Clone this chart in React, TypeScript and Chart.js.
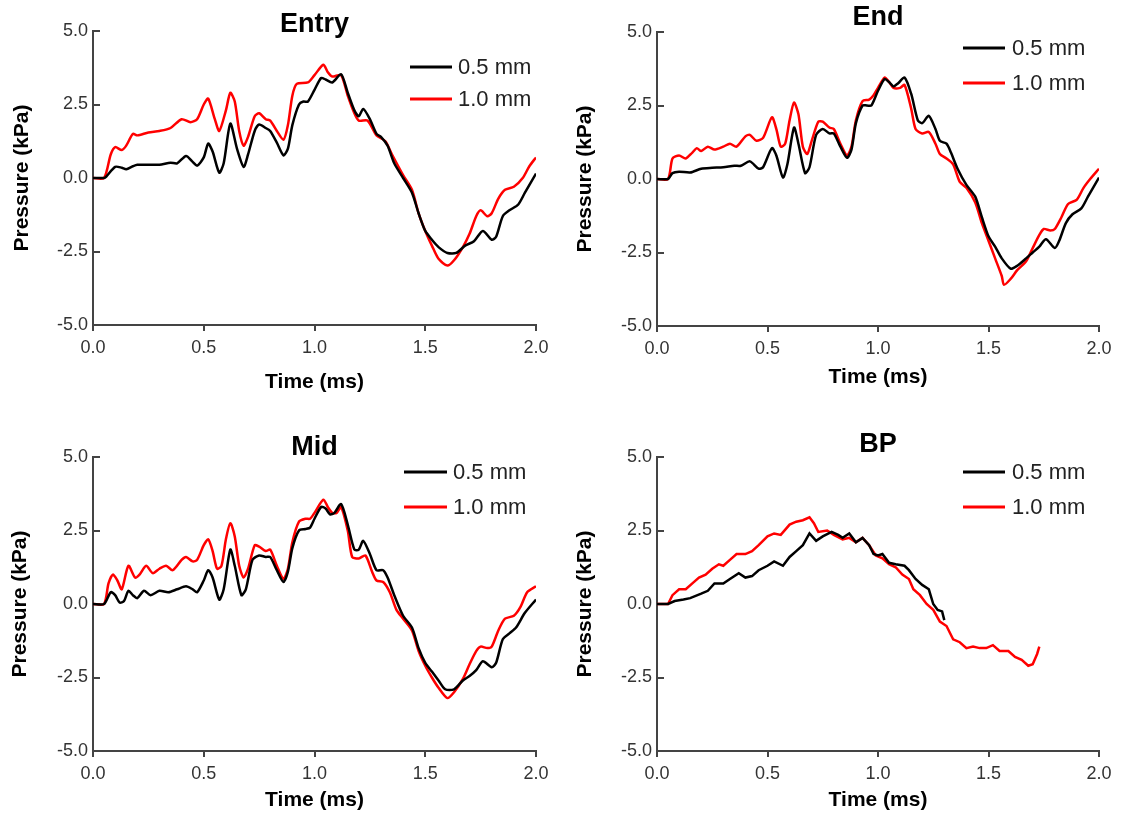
import React, { useEffect, useRef } from 'react';
import { Chart, registerables } from 'chart.js';

Chart.register(...registerables);

const FONT = '"Liberation Sans", Arial, Helvetica, sans-serif';

// ---- data: [time (ms), pressure (kPa)] ----
const seriesLabels = ['0.5 mm', '1.0 mm'];
const seriesColors = ['#000000', '#ff0000'];
const panelTitles = ['Entry', 'End', 'Mid', 'BP'];
const xAxisTitle = 'Time (ms)';
const yAxisTitle = 'Pressure (kPa)';
const xRange = [0, 2];
const yRange = [-5, 5];
const xStep = 0.5;
const yStep = 2.5;

const entry05: number[][] = [
  [0, 0], [0.05, 0], [0.06, 0.05], [0.1, 0.38], [0.13, 0.35], [0.15, 0.3], [0.18, 0.4], [0.2, 0.45], [0.25, 0.45], [0.3, 0.45],
  [0.35, 0.52], [0.38, 0.5], [0.42, 0.75], [0.45, 0.55], [0.47, 0.42], [0.5, 0.7], [0.52, 1.17], [0.54, 0.9], [0.57, 0.18], [0.59, 0.5],
  [0.62, 1.85], [0.65, 1.0], [0.68, 0.38], [0.7, 0.8], [0.73, 1.6], [0.75, 1.82], [0.78, 1.7], [0.8, 1.6], [0.83, 1.2], [0.86, 0.77],
  [0.88, 1.0], [0.9, 1.8], [0.93, 2.5], [0.95, 2.6], [0.97, 2.6], [1.0, 3.0], [1.03, 3.4], [1.05, 3.35], [1.08, 3.25], [1.12, 3.53],
  [1.15, 2.9], [1.18, 2.3], [1.2, 2.1], [1.22, 2.35], [1.25, 2.0], [1.28, 1.5], [1.3, 1.4], [1.33, 1.1], [1.36, 0.5], [1.4, 0.0],
  [1.44, -0.5], [1.47, -1.2], [1.5, -1.8], [1.53, -2.1], [1.56, -2.35], [1.6, -2.55], [1.64, -2.55], [1.68, -2.3], [1.72, -2.15], [1.76, -1.8],
  [1.8, -2.1], [1.82, -2.0], [1.85, -1.3], [1.88, -1.1], [1.92, -0.9], [1.95, -0.5], [2.0, 0.15],
];
const entry10: number[][] = [
  [0, 0], [0.05, 0], [0.08, 0.8], [0.1, 1.05], [0.13, 0.95], [0.15, 1.1], [0.18, 1.5], [0.2, 1.45], [0.25, 1.55], [0.3, 1.6],
  [0.35, 1.7], [0.4, 2.0], [0.44, 1.9], [0.47, 2.0], [0.5, 2.5], [0.52, 2.7], [0.55, 2.0], [0.57, 1.6], [0.6, 2.3], [0.62, 2.9],
  [0.64, 2.6], [0.66, 1.6], [0.68, 1.1], [0.7, 1.4], [0.73, 2.1], [0.75, 2.2], [0.78, 2.0], [0.8, 1.95], [0.83, 1.6], [0.86, 1.3],
  [0.88, 1.8], [0.9, 2.8], [0.92, 3.2], [0.97, 3.25], [1.0, 3.5], [1.04, 3.85], [1.06, 3.6], [1.08, 3.45], [1.12, 3.5], [1.15, 2.8],
  [1.18, 2.2], [1.2, 1.95], [1.24, 1.95], [1.28, 1.45], [1.32, 1.25], [1.35, 0.8], [1.4, 0.1], [1.44, -0.4], [1.47, -1.2], [1.5, -1.8],
  [1.53, -2.3], [1.56, -2.75], [1.6, -2.98], [1.63, -2.8], [1.67, -2.35], [1.7, -1.9], [1.73, -1.3], [1.75, -1.1], [1.78, -1.3], [1.8, -1.2],
  [1.83, -0.7], [1.86, -0.4], [1.9, -0.3], [1.94, 0.0], [1.97, 0.4], [2.0, 0.7],
];
const end05: number[][] = [
  [0, 0], [0.05, 0], [0.07, 0.2], [0.1, 0.25], [0.15, 0.22], [0.2, 0.35], [0.25, 0.38], [0.3, 0.4], [0.35, 0.45], [0.38, 0.45],
  [0.42, 0.6], [0.46, 0.35], [0.48, 0.4], [0.52, 1.05], [0.54, 0.8], [0.57, 0.05], [0.59, 0.5], [0.62, 1.75], [0.64, 1.2], [0.67, 0.2],
  [0.69, 0.4], [0.72, 1.5], [0.75, 1.7], [0.78, 1.55], [0.8, 1.55], [0.83, 1.1], [0.86, 0.72], [0.88, 1.0], [0.9, 1.9], [0.93, 2.5],
  [0.95, 2.5], [0.97, 2.5], [1.0, 3.0], [1.03, 3.4], [1.05, 3.3], [1.07, 3.15], [1.09, 3.25], [1.12, 3.45], [1.15, 2.9], [1.18, 2.0],
  [1.2, 1.9], [1.23, 2.15], [1.26, 1.7], [1.28, 1.3], [1.31, 1.2], [1.33, 0.9], [1.36, 0.35], [1.4, -0.2], [1.44, -0.6], [1.47, -1.3],
  [1.5, -1.95], [1.53, -2.3], [1.56, -2.7], [1.6, -3.05], [1.63, -2.95], [1.67, -2.7], [1.7, -2.5], [1.73, -2.3], [1.76, -2.05], [1.8, -2.35],
  [1.82, -2.1], [1.85, -1.5], [1.88, -1.2], [1.92, -1.0], [1.95, -0.6], [2.0, 0.05],
];
const end10: number[][] = [
  [0, 0], [0.05, 0], [0.07, 0.7], [0.1, 0.8], [0.13, 0.7], [0.16, 0.9], [0.18, 1.05], [0.2, 0.95], [0.23, 1.1], [0.26, 1.0],
  [0.3, 1.1], [0.33, 1.2], [0.36, 1.1], [0.4, 1.45], [0.42, 1.5], [0.45, 1.3], [0.48, 1.4], [0.52, 2.1], [0.54, 1.7], [0.56, 1.1],
  [0.58, 1.2], [0.6, 2.0], [0.62, 2.6], [0.64, 2.2], [0.66, 1.1], [0.68, 0.85], [0.7, 1.3], [0.73, 1.95], [0.75, 1.95], [0.78, 1.75],
  [0.8, 1.7], [0.83, 1.2], [0.86, 0.8], [0.88, 1.1], [0.9, 2.0], [0.93, 2.65], [0.96, 2.7], [0.98, 2.85], [1.0, 3.1], [1.03, 3.45],
  [1.05, 3.3], [1.07, 3.1], [1.1, 3.1], [1.12, 3.2], [1.15, 2.4], [1.17, 1.7], [1.2, 1.55], [1.23, 1.6], [1.26, 1.2], [1.28, 0.85],
  [1.31, 0.7], [1.34, 0.5], [1.37, -0.1], [1.4, -0.3], [1.44, -0.8], [1.47, -1.5], [1.5, -2.1], [1.53, -2.7], [1.56, -3.3], [1.57, -3.6],
  [1.6, -3.4], [1.63, -3.1], [1.67, -2.8], [1.7, -2.35], [1.73, -1.9], [1.75, -1.7], [1.78, -1.75], [1.8, -1.7], [1.83, -1.3], [1.86, -0.85],
  [1.9, -0.7], [1.93, -0.3], [1.96, 0.0], [2.0, 0.35],
];
const mid05: number[][] = [
  [0, 0], [0.05, 0], [0.08, 0.4], [0.1, 0.3], [0.12, 0.05], [0.14, 0.1], [0.16, 0.45], [0.18, 0.3], [0.2, 0.2], [0.23, 0.45],
  [0.26, 0.3], [0.3, 0.45], [0.34, 0.4], [0.38, 0.5], [0.42, 0.6], [0.45, 0.5], [0.47, 0.4], [0.5, 0.8], [0.52, 1.15], [0.54, 0.9],
  [0.57, 0.15], [0.59, 0.5], [0.62, 1.85], [0.64, 1.3], [0.67, 0.3], [0.69, 0.5], [0.72, 1.5], [0.75, 1.65], [0.78, 1.6], [0.8, 1.6],
  [0.83, 1.15], [0.86, 0.75], [0.88, 1.1], [0.9, 1.9], [0.93, 2.5], [0.96, 2.55], [0.98, 2.6], [1.0, 2.9], [1.03, 3.3], [1.05, 3.25],
  [1.07, 3.05], [1.09, 3.1], [1.12, 3.4], [1.15, 2.7], [1.18, 1.85], [1.2, 1.85], [1.22, 2.15], [1.25, 1.7], [1.28, 1.15], [1.31, 1.15],
  [1.33, 0.9], [1.36, 0.3], [1.4, -0.4], [1.44, -0.8], [1.47, -1.5], [1.5, -2.0], [1.53, -2.3], [1.56, -2.6], [1.59, -2.9], [1.63, -2.9],
  [1.67, -2.6], [1.7, -2.45], [1.73, -2.25], [1.76, -1.95], [1.8, -2.15], [1.82, -2.0], [1.85, -1.2], [1.88, -1.0], [1.91, -0.8], [1.95, -0.3],
  [2.0, 0.15],
];
const mid10: number[][] = [
  [0, 0], [0.05, 0], [0.07, 0.7], [0.09, 1.0], [0.11, 0.8], [0.13, 0.5], [0.16, 1.3], [0.19, 0.9], [0.21, 1.0], [0.24, 1.3],
  [0.27, 1.05], [0.3, 1.2], [0.33, 1.3], [0.36, 1.15], [0.4, 1.5], [0.42, 1.6], [0.45, 1.45], [0.47, 1.5], [0.5, 2.0], [0.52, 2.2],
  [0.54, 1.8], [0.56, 1.2], [0.58, 1.3], [0.6, 2.2], [0.62, 2.75], [0.64, 2.3], [0.66, 1.3], [0.68, 0.9], [0.7, 1.2], [0.73, 2.0],
  [0.75, 1.95], [0.78, 1.8], [0.8, 1.85], [0.83, 1.3], [0.86, 0.85], [0.88, 1.2], [0.9, 2.1], [0.93, 2.8], [0.96, 2.9], [0.98, 2.9],
  [1.0, 3.1], [1.04, 3.55], [1.06, 3.3], [1.08, 3.1], [1.1, 3.1], [1.12, 3.3], [1.15, 2.5], [1.17, 1.6], [1.2, 1.55], [1.23, 1.65],
  [1.26, 1.1], [1.28, 0.8], [1.31, 0.75], [1.34, 0.4], [1.37, -0.2], [1.4, -0.5], [1.44, -0.9], [1.47, -1.6], [1.5, -2.1], [1.53, -2.5],
  [1.56, -2.85], [1.6, -3.2], [1.63, -3.0], [1.67, -2.55], [1.7, -2.05], [1.73, -1.6], [1.75, -1.45], [1.78, -1.5], [1.8, -1.45], [1.83, -0.9],
  [1.86, -0.5], [1.9, -0.4], [1.93, -0.1], [1.96, 0.4], [2.0, 0.6],
];
const bp05: number[][] = [
  [0, 0], [0.05, 0], [0.08, 0.1], [0.12, 0.15], [0.15, 0.2], [0.2, 0.35], [0.23, 0.45], [0.26, 0.7], [0.3, 0.7], [0.33, 0.85],
  [0.37, 1.05], [0.4, 0.9], [0.43, 0.95], [0.46, 1.15], [0.5, 1.3], [0.53, 1.45], [0.57, 1.3], [0.6, 1.6], [0.63, 1.8], [0.66, 2.0],
  [0.69, 2.4], [0.72, 2.15], [0.75, 2.3], [0.79, 2.45], [0.82, 2.35], [0.84, 2.25], [0.87, 2.4], [0.9, 2.1], [0.93, 2.25], [0.96, 2.0],
  [0.98, 1.7], [1.0, 1.65], [1.02, 1.7], [1.05, 1.4], [1.08, 1.35], [1.12, 1.3], [1.14, 1.15], [1.17, 0.85], [1.2, 0.65], [1.23, 0.5],
  [1.25, 0.0], [1.27, -0.2], [1.29, -0.25], [1.3, -0.55],
];
const bp10: number[][] = [
  [0, 0], [0.05, 0], [0.07, 0.3], [0.1, 0.5], [0.13, 0.5], [0.16, 0.7], [0.19, 0.9], [0.22, 1.0], [0.25, 1.2], [0.28, 1.35],
  [0.3, 1.3], [0.33, 1.5], [0.36, 1.7], [0.4, 1.7], [0.43, 1.8], [0.46, 2.0], [0.5, 2.3], [0.53, 2.4], [0.56, 2.35], [0.6, 2.7],
  [0.63, 2.8], [0.66, 2.85], [0.69, 2.95], [0.71, 2.75], [0.73, 2.45], [0.77, 2.5], [0.8, 2.35], [0.84, 2.2], [0.87, 2.25], [0.9, 2.1],
  [0.93, 2.25], [0.96, 2.0], [0.99, 1.65], [1.02, 1.55], [1.05, 1.35], [1.08, 1.25], [1.11, 1.0], [1.14, 0.85], [1.16, 0.5], [1.19, 0.3],
  [1.22, 0.0], [1.25, -0.2], [1.28, -0.6], [1.31, -0.75], [1.34, -1.2], [1.37, -1.3], [1.4, -1.5], [1.43, -1.45], [1.46, -1.5], [1.49, -1.5],
  [1.52, -1.4], [1.55, -1.6], [1.59, -1.6], [1.62, -1.8], [1.65, -1.9], [1.68, -2.1], [1.7, -2.05], [1.72, -1.7], [1.73, -1.45],
];

// ---- layout (positions / sizes only) ----
type Panel = {
  title: string;
  series: number[][][];
  tension: number;
  left: number; top: number; w: number; h: number;
  area: { l: number; t: number; r: number; b: number };
  titleY: number;
  legY: number[];
  legX: number[]; // line start, line end, text start
  xTitlePad: number;
  yTitlePad: number;
};

const panels: Panel[] = [
  { title: panelTitles[0], series: [entry05, entry10], tension: 0.25, left: 0, top: 0, w: 562, h: 410,
    area: { l: 93, t: 31, r: 536, b: 325 }, titleY: 25, legY: [67, 99], legX: [410, 452, 458], xTitlePad: 15, yTitlePad: 10 },
  { title: panelTitles[1], series: [end05, end10], tension: 0.25, left: 562, top: 0, w: 563, h: 410,
    area: { l: 95, t: 32, r: 537, b: 326 }, titleY: 18, legY: [48, 83], legX: [401, 443, 450], xTitlePad: 20, yTitlePad: 11 },
  { title: panelTitles[2], series: [mid05, mid10], tension: 0.25, left: 0, top: 410, w: 562, h: 405,
    area: { l: 93, t: 47, r: 536, b: 341 }, titleY: 38, legY: [62, 97], legX: [404, 447, 453], xTitlePad: 2, yTitlePad: 8 },
  { title: panelTitles[3], series: [bp05, bp10], tension: 0, left: 562, top: 410, w: 563, h: 405,
    area: { l: 95, t: 47, r: 537, b: 341 }, titleY: 35, legY: [62, 97], legX: [401, 443, 450], xTitlePad: 2, yTitlePad: 11 },
];

const fmt = (v: number | string) => Number(v).toFixed(1);

function PanelChart({ p }: { p: Panel }) {
  const ref = useRef<HTMLCanvasElement | null>(null);
  useEffect(() => {
    if (!ref.current) return;
    const decor = {
      id: 'decor',
      afterDraw(chart: any) {
        const ctx = chart.ctx as CanvasRenderingContext2D;
        const a = chart.chartArea;
        ctx.save();
        ctx.fillStyle = '#000';
        ctx.textAlign = 'center';
        ctx.textBaseline = 'middle';
        ctx.font = `bold 27px ${FONT}`;
        ctx.fillText(p.title, (a.left + a.right) / 2, p.titleY);
        ctx.font = `22px ${FONT}`;
        ctx.textAlign = 'left';
        seriesLabels.forEach((lab, i) => {
          ctx.strokeStyle = seriesColors[i];
          ctx.lineWidth = 3;
          ctx.beginPath();
          ctx.moveTo(p.legX[0], p.legY[i]);
          ctx.lineTo(p.legX[1], p.legY[i]);
          ctx.stroke();
          ctx.fillStyle = '#222';
          ctx.fillText(lab, p.legX[2], p.legY[i] + 1);
        });
        ctx.restore();
      },
    };
    const chart = new Chart(ref.current, {
      type: 'line',
      data: {
        datasets: p.series.map((s, i) => ({
          label: seriesLabels[i],
          data: s.map(([x, y]) => ({ x, y })),
          borderColor: seriesColors[i],
          backgroundColor: seriesColors[i],
          borderWidth: 2.5,
          pointRadius: 0,
          tension: p.tension,
          fill: false,
        })),
      },
      options: {
        animation: false,
        responsive: false,
        devicePixelRatio: 1,
        layout: { padding: { left: 0, top: p.area.t, right: p.w - p.area.r, bottom: 0 } },
        plugins: { legend: { display: false }, title: { display: false }, tooltip: { enabled: false } },
        scales: {
          x: {
            type: 'linear',
            min: xRange[0], max: xRange[1],
            afterFit: (s: any) => { s.height = p.h - p.area.b; },
            border: { display: true, color: '#444', width: 2 },
            grid: { display: true, drawOnChartArea: false, drawTicks: true, tickLength: 6, color: '#444', lineWidth: 2 },
            ticks: { stepSize: xStep, callback: fmt, color: '#333', padding: 6, maxRotation: 0,
              font: { family: FONT, size: 18 } },
            title: { display: true, text: xAxisTitle, color: '#000',
              font: { family: FONT, size: 21, weight: 'bold' }, padding: { top: 0, bottom: p.xTitlePad } },
          },
          y: {
            type: 'linear',
            min: yRange[0], max: yRange[1],
            afterFit: (s: any) => { s.width = p.area.l; },
            border: { display: true, color: '#444', width: 2 },
            grid: { display: true, drawOnChartArea: false, drawTicks: true, tickLength: -7, color: '#444', lineWidth: 2 },
            ticks: { stepSize: yStep, callback: fmt, color: '#333', padding: 12,
              font: { family: FONT, size: 18 } },
            title: { display: true, text: yAxisTitle, color: '#000',
              font: { family: FONT, size: 21, weight: 'bold' }, padding: { top: p.yTitlePad, bottom: 0 } },
          },
        },
      },
      plugins: [decor],
    } as any);
    return () => chart.destroy();
  }, [p]);
  return (
    <canvas
      ref={ref}
      width={p.w}
      height={p.h}
      style={{ position: 'absolute', left: p.left, top: p.top, width: p.w, height: p.h }}
    />
  );
}

export default function App() {
  return (
    <div style={{ background: '#fff' }}>
      {panels.map((p) => (
        <PanelChart key={p.title} p={p} />
      ))}
    </div>
  );
}
